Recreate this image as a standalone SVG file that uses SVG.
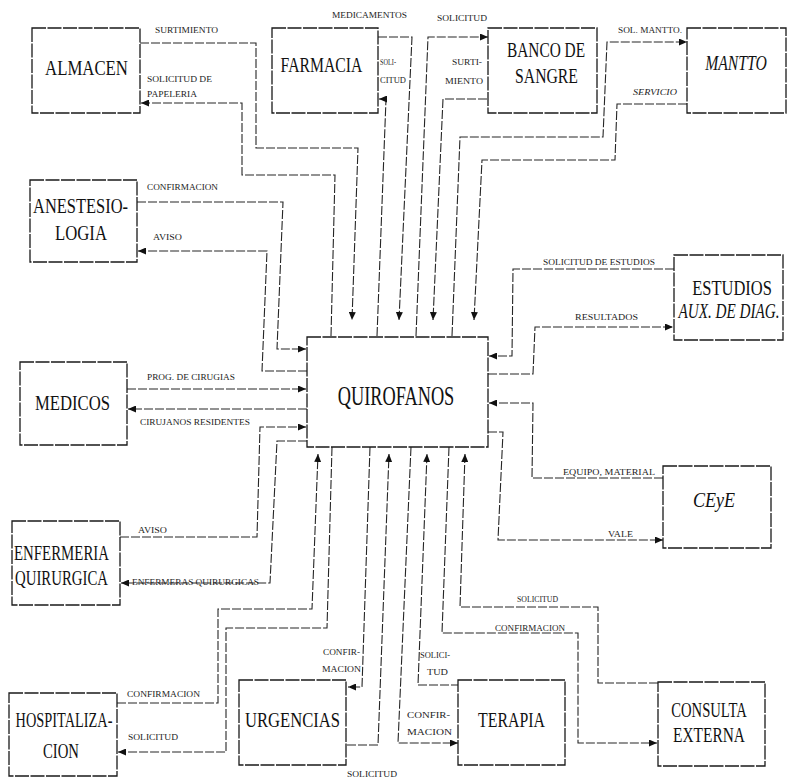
<svg xmlns="http://www.w3.org/2000/svg" width="788" height="781" viewBox="0 0 788 781">
  <style>
    .box { fill: #fff; stroke: #1a1a1a; stroke-width: 1.3; stroke-dasharray: 14 1.5; }
    .title { font-family: "Liberation Serif", "DejaVu Serif", serif; font-size: 22px; fill: #111; text-anchor: middle; }
    .big { font-family: "Liberation Serif", "DejaVu Serif", serif; font-size: 27px; fill: #111; text-anchor: middle; }
    .it { font-style: italic; }
    .lbl { font-family: "Liberation Serif", "DejaVu Serif", serif; font-size: 9px; fill: #222; }
    .flow path { fill: none; stroke: #262626; stroke-width: 1.1; stroke-dasharray: 9 2; }
    .flow path.in { marker-end: url(#tip); }
  </style>
  <defs>
    <marker id="tip" viewBox="0 0 8 7" refX="8" refY="3.5" markerWidth="8" markerHeight="7" markerUnits="userSpaceOnUse" orient="auto">
      <path d="M0,0 L8,3.5 L0,7 z" fill="#111"/>
    </marker>
  </defs>
  <rect width="788" height="781" fill="#fff"/>

  <!-- connectors -->
  <g id="connectors" class="flow">
    <!-- top: almacen, farmacia, banco de sangre, mantto -->
    <path class="in" d="M140,43 H256 V148 H358 L352,320"/>
    <path class="in" d="M331,336 L335,175 H242 V103 H141"/>
    <path class="in" d="M378,37 H412 L399,320"/>
    <path class="in" d="M377,336 L386,99 H379"/>
    <path class="in" d="M416,336 L428,37 H488"/>
    <path class="in" d="M597,99 H443 L433,320"/>
    <path class="in" d="M452,336 L460,137 H603 L607,42 H687"/>
    <path class="in" d="M687,104 H617 L615,160 H482 L474,320"/>
    <!-- left: anestesiologia, medicos, enfermeria -->
    <path class="in" d="M137,202 H283 L277,349 H306"/>
    <path class="in" d="M307,371 H262 L267,251 H138"/>
    <path class="in" d="M127,389 H306"/>
    <path class="in" d="M307,409 H128"/>
    <path class="in" d="M120,537 H257 L260,427 H306"/>
    <path class="in" d="M307,441 H277 L270,583 H121"/>
    <!-- bottom: hospitalizacion, urgencias, terapia, consulta externa -->
    <path class="in" d="M117,703 H218 V609 H312 L318,454"/>
    <path class="in" d="M332,447 L327,628 H226 V752 H118"/>
    <path class="in" d="M370,447 L362,687 H348"/>
    <path class="in" d="M347,745 H378 L389,454"/>
    <path class="in" d="M460,685 H418 L427,454"/>
    <path class="in" d="M411,447 L398,743 H458"/>
    <path class="in" d="M658,683 H598 V607 H460 L465,454"/>
    <path class="in" d="M449,447 L442,633 H578 V743 H657"/>
    <!-- right: estudios, ceye -->
    <path class="in" d="M674,269 H513 L512,356 H489"/>
    <path class="in" d="M488,374 H533 L535,327 H673"/>
    <path class="in" d="M663,478 H532 L533,403 H489"/>
    <path class="in" d="M488,432 H503 L498,540 H663"/>
  </g>

  <!-- connector labels -->
  <g id="labels" class="lbl">
    <text x="155" y="33" textLength="63" lengthAdjust="spacingAndGlyphs">SURTIMIENTO</text>
    <text x="147" y="82" textLength="65" lengthAdjust="spacingAndGlyphs">SOLICITUD DE</text>
    <text x="147" y="97" textLength="50" lengthAdjust="spacingAndGlyphs">PAPELERIA</text>
    <text x="332" y="18" textLength="75" lengthAdjust="spacingAndGlyphs">MEDICAMENTOS</text>
    <text x="380" y="65" textLength="16" lengthAdjust="spacingAndGlyphs">SOLI-</text>
    <text x="380" y="83" textLength="26" lengthAdjust="spacingAndGlyphs">CITUD</text>
    <text x="437" y="21" textLength="50" lengthAdjust="spacingAndGlyphs">SOLICITUD</text>
    <text x="452" y="65" textLength="30" lengthAdjust="spacingAndGlyphs">SURTI-</text>
    <text x="445" y="84" textLength="38" lengthAdjust="spacingAndGlyphs">MIENTO</text>
    <text x="618" y="33" textLength="64" lengthAdjust="spacingAndGlyphs">SOL. MANTTO.</text>
    <text x="633" y="95" textLength="44" lengthAdjust="spacingAndGlyphs" font-style="italic">SERVICIO</text>
    <text x="147" y="190" textLength="71" lengthAdjust="spacingAndGlyphs">CONFIRMACION</text>
    <text x="153" y="240" textLength="29" lengthAdjust="spacingAndGlyphs">AVISO</text>
    <text x="147" y="380" textLength="88" lengthAdjust="spacingAndGlyphs">PROG. DE CIRUGIAS</text>
    <text x="140" y="425" textLength="110" lengthAdjust="spacingAndGlyphs">CIRUJANOS RESIDENTES</text>
    <text x="138" y="533" textLength="29" lengthAdjust="spacingAndGlyphs">AVISO</text>
    <text x="132" y="585" textLength="127" lengthAdjust="spacingAndGlyphs">ENFERMERAS QUIRURGICAS</text>
    <text x="127" y="697" textLength="73" lengthAdjust="spacingAndGlyphs">CONFIRMACION</text>
    <text x="128" y="740" textLength="50" lengthAdjust="spacingAndGlyphs">SOLICITUD</text>
    <text x="323" y="655" textLength="37" lengthAdjust="spacingAndGlyphs">CONFIR-</text>
    <text x="322" y="672" textLength="39" lengthAdjust="spacingAndGlyphs">MACION</text>
    <text x="347" y="777" textLength="50" lengthAdjust="spacingAndGlyphs">SOLICITUD</text>
    <text x="420" y="658" textLength="30" lengthAdjust="spacingAndGlyphs">SOLICI-</text>
    <text x="427" y="675" textLength="21" lengthAdjust="spacingAndGlyphs">TUD</text>
    <text x="407" y="718" textLength="43" lengthAdjust="spacingAndGlyphs">CONFIR-</text>
    <text x="407" y="735" textLength="45" lengthAdjust="spacingAndGlyphs">MACION</text>
    <text x="517" y="602" textLength="41" lengthAdjust="spacingAndGlyphs">SOLICITUD</text>
    <text x="495" y="631" textLength="70" lengthAdjust="spacingAndGlyphs">CONFIRMACION</text>
    <text x="543" y="265" textLength="112" lengthAdjust="spacingAndGlyphs">SOLICITUD DE ESTUDIOS</text>
    <text x="575" y="320" textLength="63" lengthAdjust="spacingAndGlyphs">RESULTADOS</text>
    <text x="563" y="475" textLength="92" lengthAdjust="spacingAndGlyphs">EQUIPO, MATERIAL</text>
    <text x="608" y="537" textLength="25" lengthAdjust="spacingAndGlyphs">VALE</text>
  </g>

  <!-- nodes -->
  <g id="quirofanos">
    <rect class="box" x="307" y="337" width="181" height="110"/>
    <text class="big" transform="translate(396,405) scale(0.678,1)">QUIROFANOS</text>
  </g>
  <g id="almacen">
    <rect class="box" x="32" y="28" width="108" height="85"/>
    <text class="title" transform="translate(86.5,75) scale(0.763,1)">ALMACEN</text>
  </g>
  <g id="farmacia">
    <rect class="box" x="272" y="28" width="106" height="85"/>
    <text class="title" transform="translate(321.5,72) scale(0.715,1)">FARMACIA</text>
  </g>
  <g id="banco-de-sangre">
    <rect class="box" x="488" y="28" width="109" height="85"/>
    <text class="title" transform="translate(546,57) scale(0.698,1)">BANCO DE</text>
    <text class="title" transform="translate(546.5,83) scale(0.716,1)">SANGRE</text>
  </g>
  <g id="mantto">
    <rect class="box" x="687" y="28" width="99" height="85"/>
    <text class="title it" transform="translate(736,70) scale(0.714,1)">MANTTO</text>
  </g>
  <g id="anestesiologia">
    <rect class="box" x="30" y="180" width="107" height="82"/>
    <text class="title" transform="translate(80.5,213) scale(0.748,1)">ANESTESIO-</text>
    <text class="title" transform="translate(81,240) scale(0.76,1)">LOGIA</text>
  </g>
  <g id="medicos">
    <rect class="box" x="20" y="362" width="107" height="83"/>
    <text class="title" transform="translate(72.5,410) scale(0.758,1)">MEDICOS</text>
  </g>
  <g id="enfermeria-quirurgica">
    <rect class="box" x="12" y="521" width="108" height="84"/>
    <text class="title" transform="translate(61.5,560) scale(0.676,1)">ENFERMERIA</text>
    <text class="title" transform="translate(61.5,585) scale(0.674,1)">QUIRURGICA</text>
  </g>
  <g id="hospitalizacion">
    <rect class="box" x="9" y="693" width="108" height="83"/>
    <text class="title" transform="translate(64,727) scale(0.652,1)">HOSPITALIZA-</text>
    <text class="title" transform="translate(61,758) scale(0.67,1)">CION</text>
  </g>
  <g id="urgencias">
    <rect class="box" x="239" y="680" width="107" height="85"/>
    <text class="title" transform="translate(292.5,727) scale(0.755,1)">URGENCIAS</text>
  </g>
  <g id="terapia">
    <rect class="box" x="458" y="680" width="107" height="85"/>
    <text class="title" transform="translate(511.5,727) scale(0.72,1)">TERAPIA</text>
  </g>
  <g id="consulta-externa">
    <rect class="box" x="658" y="682" width="107" height="84"/>
    <text class="title" transform="translate(709,717) scale(0.665,1)">CONSULTA</text>
    <text class="title" transform="translate(709,742) scale(0.70,1)">EXTERNA</text>
  </g>
  <g id="ceye">
    <rect class="box" x="663" y="466" width="108" height="82"/>
    <text class="title it" transform="translate(714,507) scale(0.82,1)">CEyE</text>
  </g>
  <g id="estudios-aux-diag">
    <rect class="box" x="674" y="255" width="109" height="85"/>
    <text class="title" transform="translate(732,295) scale(0.75,1)">ESTUDIOS</text>
    <text class="title it" transform="translate(729,318) scale(0.69,1)">AUX. DE DIAG.</text>
  </g>
</svg>
